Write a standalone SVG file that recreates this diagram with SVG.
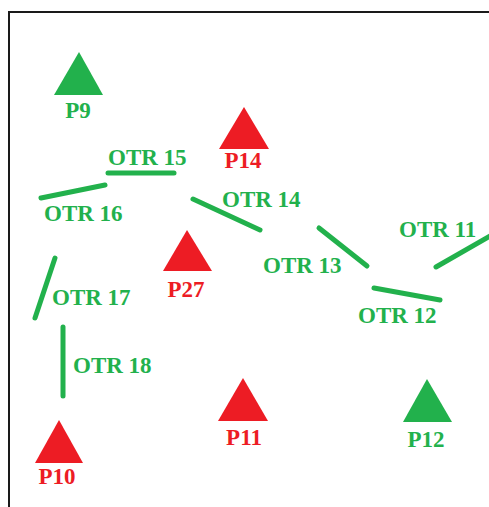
<svg xmlns="http://www.w3.org/2000/svg" width="489" height="507" viewBox="0 0 489 507">
  <style>
    .frame { fill: none; stroke: #1a1a1a; stroke-width: 2; }
    .seg { fill: none; stroke: #22B14C; stroke-width: 5; stroke-linecap: round; }
    .tri-g { fill: #22B14C; }
    .tri-r { fill: #ED1C24; }
    text { font-family: "Liberation Serif", "Times New Roman", serif; font-weight: bold; font-size: 23px; }
    .lbl-g { fill: #22B14C; }
    .lbl-r { fill: #ED1C24; text-anchor: middle; }
  </style>
  <rect width="489" height="507" fill="#ffffff"/>
  <path class="frame" d="M 9 507 V 12 H 489"/>

  <!-- line segments with their labels -->
  <g id="connectors">
    <g id="otr15"><line class="seg" x1="108" y1="173" x2="174" y2="173"/><text class="lbl-g" x="108" y="165">OTR 15</text></g>
    <g id="otr16"><line class="seg" x1="41" y1="198" x2="105" y2="185"/><text class="lbl-g" x="44" y="221">OTR 16</text></g>
    <g id="otr14"><line class="seg" x1="193" y1="199" x2="260" y2="230"/><text class="lbl-g" x="222" y="207">OTR 14</text></g>
    <g id="otr13"><line class="seg" x1="319" y1="228" x2="367" y2="266"/><text class="lbl-g" x="263" y="273">OTR 13</text></g>
    <g id="otr11"><line class="seg" x1="436" y1="267" x2="492" y2="235"/><text class="lbl-g" x="399" y="237">OTR 11</text></g>
    <g id="otr12"><line class="seg" x1="374" y1="288" x2="440" y2="300"/><text class="lbl-g" x="358" y="323">OTR 12</text></g>
    <g id="otr17"><line class="seg" x1="55" y1="258" x2="35" y2="318"/><text class="lbl-g" x="52" y="305">OTR 17</text></g>
    <g id="otr18"><line class="seg" x1="63" y1="327" x2="63" y2="396"/><text class="lbl-g" x="73" y="373">OTR 18</text></g>
  </g>

  <!-- point markers -->
  <g id="P9"><polygon class="tri-g" points="79,52 103,95 54,95"/><text class="lbl-g" x="78" y="118" text-anchor="middle">P9</text></g>
  <g id="P14"><polygon class="tri-r" points="244,107 269,149 219,149"/><text class="lbl-r" x="243" y="168">P14</text></g>
  <g id="P27"><polygon class="tri-r" points="187,230 212,271 163,271"/><text class="lbl-r" x="186" y="297">P27</text></g>
  <g id="P10"><polygon class="tri-r" points="59,420 83,463 35,463"/><text class="lbl-r" x="57" y="484">P10</text></g>
  <g id="P11"><polygon class="tri-r" points="243,378 268,421 218,421"/><text class="lbl-r" x="244" y="445">P11</text></g>
  <g id="P12"><polygon class="tri-g" points="427,379 452,422 403,422"/><text class="lbl-g" x="426" y="447" text-anchor="middle">P12</text></g>
</svg>
